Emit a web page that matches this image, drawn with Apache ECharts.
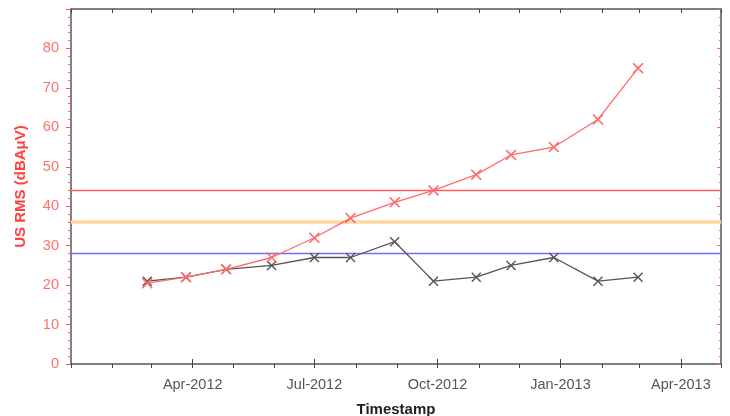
<!DOCTYPE html>
<html>
<head>
<meta charset="utf-8">
<script src="https://cdn.jsdelivr.net/npm/echarts@6/dist/echarts.min.js"></script>
<style>html,body{margin:0;padding:0;background:#fff}#c{width:730px;height:416px}</style>
</head>
<body>
<div id="c"></div>
<script>
const dates = ['2012-02-27','2012-03-27','2012-04-26','2012-05-30','2012-07-01','2012-07-28','2012-08-30','2012-09-28','2012-10-30','2012-11-25','2012-12-27','2013-01-29','2013-02-28'];
const redValues = [20.5, 22, 24, 27, 32, 37, 41, 44, 48, 53, 55, 62, 75];
const blackValues = [21, 22, 24, 25, 27, 27, 31, 21, 22, 25, 27, 21, 22];
const thresholds = [44, 36, 28];
const thresholdColors = ['#ff5c5c', '#ffd9a0', '#6e6eff'];
const thresholdWidths = [1.4, 3.5, 1.4];
const quarterLabels = ['2012-04-01','2012-07-01','2012-10-01','2013-01-01','2013-04-01'];
const monthTicks = ['2012-01-01','2012-02-01','2012-03-01','2012-04-01','2012-05-01','2012-06-01','2012-07-01','2012-08-01','2012-09-01','2012-10-01','2012-11-01','2012-12-01','2013-01-01','2013-02-01','2013-03-01','2013-04-01','2013-05-01'];
const yTicks = [0,10,20,30,40,50,60,70,80];

const ts = s => { const p = s.split('-'); return Date.UTC(+p[0], +p[1]-1, +p[2]); };
const MON = ['Jan','Feb','Mar','Apr','May','Jun','Jul','Aug','Sep','Oct','Nov','Dec'];
const fmt = v => { const d = new Date(v); return MON[d.getUTCMonth()] + '-' + d.getUTCFullYear(); };
const xMin = ts('2012-01-01'), xMax = ts('2013-05-01');
const X = 'path://M0,1L1,0L5,4L9,0L10,1L6,5L10,9L9,10L5,6L1,10L0,9L4,5Z';

const chart = echarts.init(document.getElementById('c'), null, {renderer:'canvas'});
const baseX = {
  type: 'value', min: xMin, max: xMax, splitLine: {show:false}
};
const lineSeries = thresholds.map((v, i) => ({
  type: 'line', xAxisIndex: 0, yAxisIndex: 0,
  data: [[xMin, v], [xMax, v]],
  symbol: 'none', silent: true,
  lineStyle: {color: thresholdColors[i], width: thresholdWidths[i]},
  z: 2
}));
chart.setOption({
  animation: false,
  grid: {left: 71, right: 9, top: 9, bottom: 52, containLabel: false, outerBoundsMode: 'none'},
  xAxis: [
    Object.assign({}, baseX, {
      position: 'bottom', gridIndex: 0,
      name: 'Timestamp', nameLocation: 'middle', nameGap: 38,
      nameTextStyle: {fontFamily: 'Liberation Sans', fontWeight: 'bold', fontSize: 15, color: '#222'},
      axisLine: {show: true, onZero: false, lineStyle: {color: '#555', width: 1.5}},
      axisTick: {show: true, inside: false, length: 4, customValues: monthTicks.map(ts), lineStyle: {color: '#444'}},
      axisLabel: {show: true, customValues: quarterLabels.map(ts), formatter: fmt, margin: 13,
        fontFamily: 'Liberation Sans', fontSize: 14.5, color: '#555'}
    }),
    Object.assign({}, baseX, {
      position: 'bottom', gridIndex: 0,
      axisLine: {show: false, onZero: false},
      axisTick: {show: true, inside: true, length: 5, customValues: quarterLabels.map(ts), lineStyle: {color: '#444'}},
      axisLabel: {show: false}
    }),
    Object.assign({}, baseX, {
      position: 'top', gridIndex: 0,
      axisLine: {show: true, onZero: false, lineStyle: {color: '#555', width: 1.5}},
      axisTick: {show: true, inside: true, length: 4, customValues: monthTicks.map(ts), lineStyle: {color: '#444'}},
      axisLabel: {show: false}
    })
  ],
  yAxis: [
    {
      type: 'value', min: 0, max: 90, interval: 10, position: 'left',
      name: 'US RMS (dBAμV)', nameLocation: 'middle', nameGap: 43,
      nameTextStyle: {fontFamily: 'Liberation Sans', fontWeight: 'bold', fontSize: 15, color: '#ff4040'},
      axisLine: {show: true, onZero: false, lineStyle: {color: '#555', width: 1.5}},
      axisTick: {show: true, inside: false, length: 5, lineStyle: {color: '#ff5555'}},
      minorTick: {show: true, splitNumber: 5, length: 3, lineStyle: {color: '#ff5555'}},
      axisLabel: {customValues: yTicks, margin: 12, fontFamily: 'Liberation Sans', fontSize: 14.5, color: '#ff7070'},
      splitLine: {show: false}
    },
    {
      type: 'value', min: 0, max: 90, interval: 10, position: 'right',
      axisLine: {show: true, onZero: false, lineStyle: {color: '#555', width: 1.5}},
      axisTick: {show: true, inside: true, length: 4, lineStyle: {color: '#ff6666'}},
      minorTick: {show: true, splitNumber: 5, length: 2, lineStyle: {color: '#ff6666'}},
      axisLabel: {show: false},
      splitLine: {show: false}
    }
  ],
  series: lineSeries.concat([
    {
      type: 'line', xAxisIndex: 0, yAxisIndex: 0,
      data: dates.map((d,i) => [ts(d), blackValues[i]]),
      symbol: X, symbolSize: 10,
      lineStyle: {color: '#555', width: 1.3},
      itemStyle: {color: '#555'},
      z: 3
    },
    {
      type: 'line', xAxisIndex: 0, yAxisIndex: 0,
      data: dates.map((d,i) => [ts(d), redValues[i]]),
      symbol: X, symbolSize: 11,
      lineStyle: {color: '#ff6a6a', width: 1.3},
      itemStyle: {color: '#ff6a6a'},
      z: 4
    }
  ])
});
</script>
</body>
</html>
